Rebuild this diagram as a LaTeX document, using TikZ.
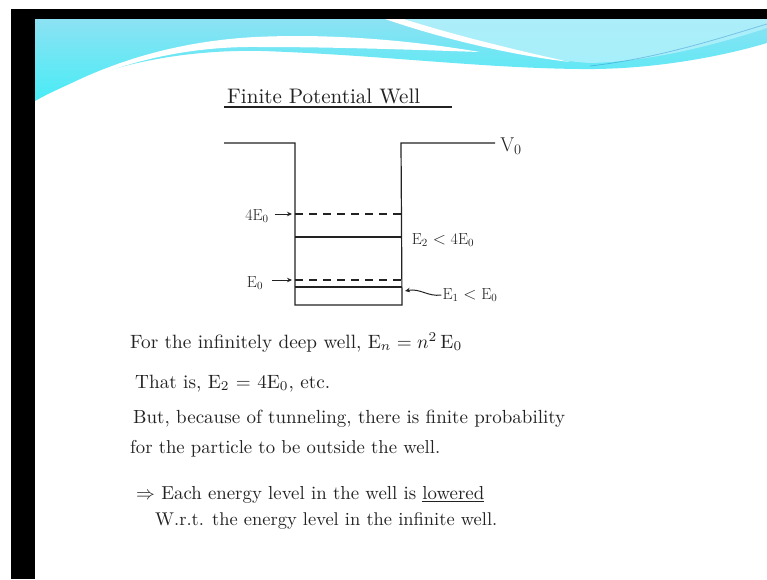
\documentclass[tikz,border=0pt]{standalone}
\usepackage{graphicx}
\usetikzlibrary{arrows.meta}
\definecolor{ink}{HTML}{222222}
\definecolor{cyA}{HTML}{8CE2F3}
\definecolor{cyB}{HTML}{48ECF6}
\definecolor{cyL}{HTML}{B2F1FC}
\newcommand{\fitw}[2]{\resizebox{#1}{!}{#2}}
\begin{document}
\begin{tikzpicture}[x=1pt,y=-1pt,
  wall/.style={draw=ink, line width=1.2pt},
  lvl/.style={draw=ink, line width=1.1pt},
  dlvl/.style={draw=ink, line width=1.1pt, dash pattern=on 8pt off 6pt},
  arr/.style={draw=ink, line width=1pt, -{Stealth[length=5pt,width=4.5pt]}},
  txt/.style={text=ink, inner sep=0pt, anchor=base west},
  lab/.style={text=ink, inner sep=1pt, font=\fontsize{16}{18}\selectfont}]
\useasboundingbox (0,0) rectangle (767,579);
\fill[white] (0,0) rectangle (767,579);
% header swoosh
\shade[top color=cyA, bottom color=cyB] (35,19) -- (767,19) -- (767,43)
  .. controls (720,57) and (650,70) .. (580,69)
  .. controls (480,68) and (380,55) .. (262,51)
  .. controls (170,49) and (90,70) .. (35,101) -- cycle;
\fill[cyL, opacity=0.85] (405,19) -- (767,19) -- (767,28)
  .. controls (700,50) and (640,62) .. (590,63)
  .. controls (540,60) and (470,42) .. (405,19) -- cycle;
\fill[white] (385,19) -- (404,19) .. controls (450,34) and (515,50) .. (570,62)
  .. controls (510,55) and (440,38) .. (385,19) -- cycle;
\fill[white] (40,100) .. controls (95,68) and (165,42) .. (255,37)
  .. controls (340,33) and (420,42) .. (480,52)
  .. controls (420,50) and (340,47) .. (258,47)
  .. controls (170,46) and (100,70) .. (40,100) -- cycle;
\draw[cyan!50!blue, opacity=0.35, line width=0.8pt] (590,66) .. controls (660,58) and (720,38) .. (767,24);
% frame bars
\fill[black] (11,9) rectangle (767,19);
\fill[black] (11,9) rectangle (35,579);
% title
\node[txt] (title) at (227,103) {\fitw{193pt}{Finite Potential Well}};
\coordinate (u1) at (224,107); \coordinate (u2) at (452,107);
\draw[ink, line width=1.1pt] (u1) -- (u2);
% well
\coordinate (tl) at (224,143); \coordinate (lt) at (295,143);
\coordinate (lb) at (295,305); \coordinate (rb) at (402,305);
\coordinate (rt) at (401,143); \coordinate (tr) at (495,143);
\draw[wall] (tl) -- (lt) -- (lb) -- (rb) -- (rt) -- (tr);
\draw[dlvl] (295,214) -- (401,214);
\draw[lvl]  (295,237) -- (401,237);
\draw[dlvl] (295,280) -- (402,280);
\draw[lvl]  (295,287) -- (402,287);
\node[lab, font=\fontsize{20}{22}\selectfont] (V) at (511,146) {V$_0$};
\node[lab] (l4) at (257,216) {4E$_0$};
\coordinate (a4) at (292,214);
\draw[arr, shorten <=5pt] (l4.east |- a4) -- (a4);
\node[lab] (l0) at (255,283) {E$_0$};
\coordinate (a0) at (292,280);
\draw[arr, shorten <=8pt] (l0.east |- a0) -- (a0);
\node[lab] (l2) at (443,240) {E$_2$ $<$ 4E$_0$};
\node[lab] (l1) at (470,295) {E$_1$ $<$ E$_0$};
\coordinate (a1) at (405,291);
\draw[arr] (l1.west) .. controls (428,297) and (420,288) .. (a1);
% text
\node[txt] (p1) at (130,348) {\fitw{332pt}{For the infinitely deep well, E$_n = n^2\,$E$_0$}};
\node[txt] (p2) at (135,388) {\fitw{195pt}{That is, E$_2$ = 4E$_0$, etc.}};
\node[txt] (p3) at (133,423) {\fitw{432pt}{But, because of tunneling, there is finite probability}};
\node[txt] (p4) at (130,453) {\fitw{310pt}{for the particle to be outside the well.}};
\node[txt] (p5) at (136,499) {\fitw{348pt}{$\Rightarrow$ Each energy level in the well is \underline{lowered}}};
\node[txt] (p6) at (155,525) {\fitw{342pt}{W.r.t. the energy level in the infinite well.}};
\end{tikzpicture}
\end{document}
